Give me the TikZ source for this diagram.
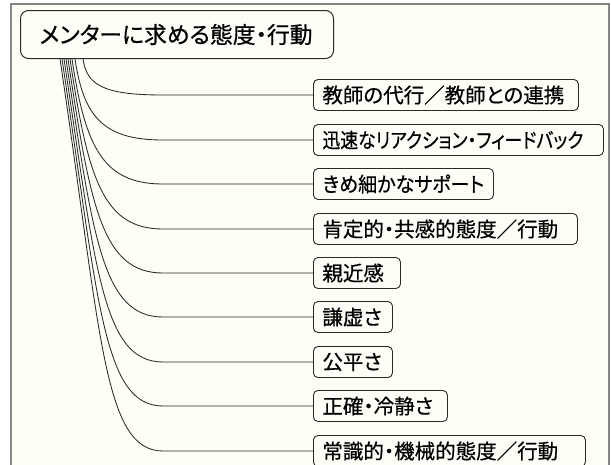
\documentclass[tikz,border=0pt]{standalone}
\usepackage{fontspec}
\newfontfamily\jp[RawFeature=+palt,FakeBold=0.6]{Noto Sans CJK JP}
\definecolor{paper}{HTML}{FEFEF6}
\definecolor{frame}{HTML}{858585}
\definecolor{ink}{HTML}{2A2A2A}
\tikzset{
  itembox/.style={draw=ink, line width=0.9pt, rounded corners=4.5pt, fill=paper,
    anchor=west, inner xsep=9pt, inner ysep=0pt, minimum height=31pt,
    text width=#1, align=left, font=\jp\fontsize{20.5}{22}\selectfont},
  titlebox/.style={draw=ink, line width=1pt, rounded corners=8pt, fill=paper,
    anchor=north west, inner xsep=19pt, inner ysep=0pt, minimum height=48pt,
    text width=275pt, align=left, font=\jp\fontsize{22.8}{24}\selectfont},
  branch/.style={draw=ink, line width=0.85pt}
}
\begin{document}
\begin{tikzpicture}[x=1pt,y=-1pt]
\useasboundingbox (0,0) rectangle (611,464);
\fill[white] (0,0) rectangle (611,464);
\draw[frame, line width=1.5pt, fill=paper] (11,4) rectangle (609,480);
\node[titlebox] (t) at (20,10) {\mbox{メンターに求める態度・行動}};
\node[itembox=247pt] (b1) at (313,95)  {\mbox{教師の代行／教師との連携}};
\node[itembox=272pt] (b2) at (313,140) {\scalebox{0.87}[1]{迅速なリアクション・フィードバック}};
\node[itembox=162pt] (b3) at (313,184) {\scalebox{0.93}[1]{きめ細かなサポート}};
\node[itembox=246pt] (b4) at (313,229) {\mbox{肯定的・共感的態度／行動}};
\node[itembox=69pt]  (b5) at (313,273) {\mbox{親近感}};
\node[itembox=61pt]  (b6) at (313,317) {\mbox{謙虚さ}};
\node[itembox=61pt]  (b7) at (313,362) {\mbox{公平さ}};
\node[itembox=116pt] (b8) at (313,406) {\mbox{正確・冷静さ}};
\node[itembox=254pt] (b9) at (313,451) {\mbox{常識的・機械的態度／行動}};
\foreach \i/\xs/\yy in {1/63/95, 2/55/140, 3/52/184, 4/50/229, 5/48/273, 6/46/317, 7/44/362, 8/42/406, 9/40/451} {
  \coordinate (s\i) at ([xshift=\xs pt]t.south west);
  \coordinate (h\i) at (163,\yy);
  \draw[branch] (s\i) .. controls +({0.105*(\yy-58)},{0.7*(\yy-58)}) and +(-60,0) .. (h\i) -- (b\i.west);
}
\end{tikzpicture}
\end{document}
